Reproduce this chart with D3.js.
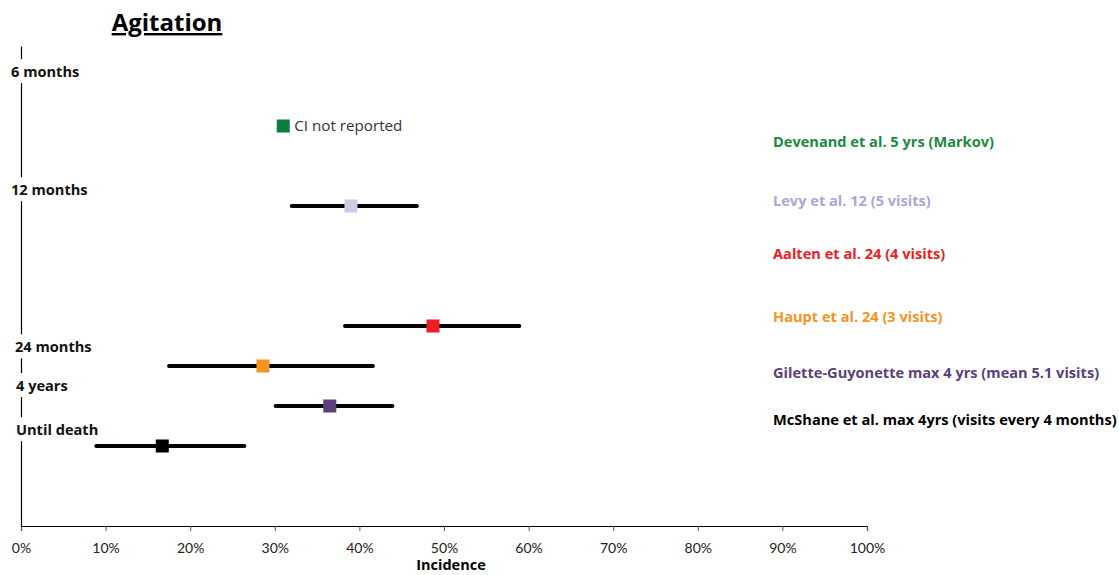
<!DOCTYPE html>
<html><head><meta charset="utf-8">
<script src="https://cdn.jsdelivr.net/npm/d3@7/dist/d3.min.js"></script>
<style>
html,body{margin:0;padding:0;background:#fff;}
svg{display:block;font-family:"Open Sans",Lato,sans-serif;}
</style></head><body>
<svg id="c" width="1119" height="575"></svg>
<script>
// ---- data ----
const studies = ["Devenand et al. 5 yrs (Markov)","Levy et al. 12 (5 visits)","Aalten et al. 24 (4 visits)","Haupt et al. 24 (3 visits)","Gilette-Guyonette max 4 yrs (mean 5.1 visits)","McShane et al. max 4yrs (visits every 4 months)"];
const incidence = [0.31, 0.39, 0.487, 0.286, 0.365, 0.167];
const ciLow   = [null, 0.32, 0.383, 0.175, 0.301, 0.089];
const ciHigh  = [null, 0.468, 0.589, 0.416, 0.439, 0.264];
const rowIndex = [10, 8, 5, 4, 3, 2];
const colors = ["#0b7d40","#cbcbe6","#ee1c25","#f7941d","#5b3f7c","#000000"];
const labelColors = ["#1b8a3f","#a9a7d6","#ee1c25","#f7941d","#5b3f7c","#000000"];
const labelRow = [9.6, 8.13, 6.8, 5.22, 3.83, 2.65];
const periodLabels = ["6 months","12 months","24 months","4 years","Until death"];
const periodRow = [11.35, 8.4, 4.47, 3.5, 2.4];
const periodDx = [11, 11, 15, 16, 16];
const xTicks = [0,0.1,0.2,0.3,0.4,0.5,0.6,0.7,0.8,0.9,1.0];

const svg = d3.select("#c");
const x = d3.scaleLinear().domain([0,1]).range([21,867]);
const y = d3.scaleLinear().domain([0,12]).range([526,46]);

// title
svg.append("text").attr("x",167).attr("y",31).attr("text-anchor","middle")
  .attr("font-size",24).attr("font-weight","bold").attr("fill","#000")
  .attr("text-decoration","underline").text("Agitation");

// x axis
const xAxis = d3.axisBottom(x).tickValues(xTicks).tickFormat(d3.format(".0%")).tickSize(5).tickPadding(12);
const gx = svg.append("g").attr("transform",`translate(0,${y(0)})`).call(xAxis);
gx.select(".domain").attr("stroke","#000").attr("stroke-width",1.2);
gx.selectAll(".tick line").attr("stroke","#555");
gx.selectAll(".tick text").attr("font-size",14).attr("fill","#222").attr("font-family","Lato,sans-serif");
svg.append("text").attr("x",451).attr("y",565).attr("dy","0.35em").attr("text-anchor","middle")
  .attr("font-size",14.5).attr("font-weight","bold").text("Incidence");

// y axis line
const gy = svg.append("g").attr("transform",`translate(${x(0)},0)`).call(d3.axisLeft(y).tickValues([]).tickSize(0));
gy.select(".domain").attr("stroke","#000").attr("stroke-width",1.2);

// period labels with white background breaking the axis
periodLabels.forEach((t,i)=>{
  const g = svg.append("g");
  const tx = g.append("text").attr("x",periodDx[i]).attr("y",y(periodRow[i])).attr("dy","0.35em")
    .attr("font-size",14.6).attr("font-weight","bold").attr("fill","#111").text(t);
  const b = tx.node().getBBox();
  g.insert("rect","text").attr("x",b.x).attr("y",b.y-2).attr("width",b.width).attr("height",b.height+4).attr("fill","#fff");
});

// CI lines
const ciData = studies.map((s,i)=>({s,i,v:incidence[i],lo:ciLow[i],hi:ciHigh[i],r:rowIndex[i]}));
svg.append("g").selectAll("line").data(ciData.filter(d=>d.lo!=null)).join("line")
  .attr("x1",d=>x(d.lo)).attr("x2",d=>x(d.hi)).attr("y1",d=>y(d.r)).attr("y2",d=>y(d.r))
  .attr("stroke","#000").attr("stroke-width",4).attr("stroke-linecap","round");

// markers
const sz = 13;
svg.append("g").selectAll("rect").data(ciData).join("rect")
  .attr("x",d=>x(d.v)-sz/2).attr("y",d=>y(d.r)-sz/2).attr("width",sz).attr("height",sz)
  .attr("fill",d=>colors[d.i]);

// CI not reported note
svg.append("text").attr("x",x(incidence[0])+11).attr("y",y(rowIndex[0])).attr("dy","0.35em")
  .attr("font-size",15.2).attr("fill","#333").text("CI not reported");

// study labels
svg.append("g").selectAll("text").data(ciData).join("text")
  .attr("x",773).attr("y",d=>y(labelRow[d.i])).attr("dy","0.35em")
  .attr("font-size",14.6).attr("font-weight","bold").attr("fill",d=>labelColors[d.i]).text(d=>d.s);
</script>
</body></html>
